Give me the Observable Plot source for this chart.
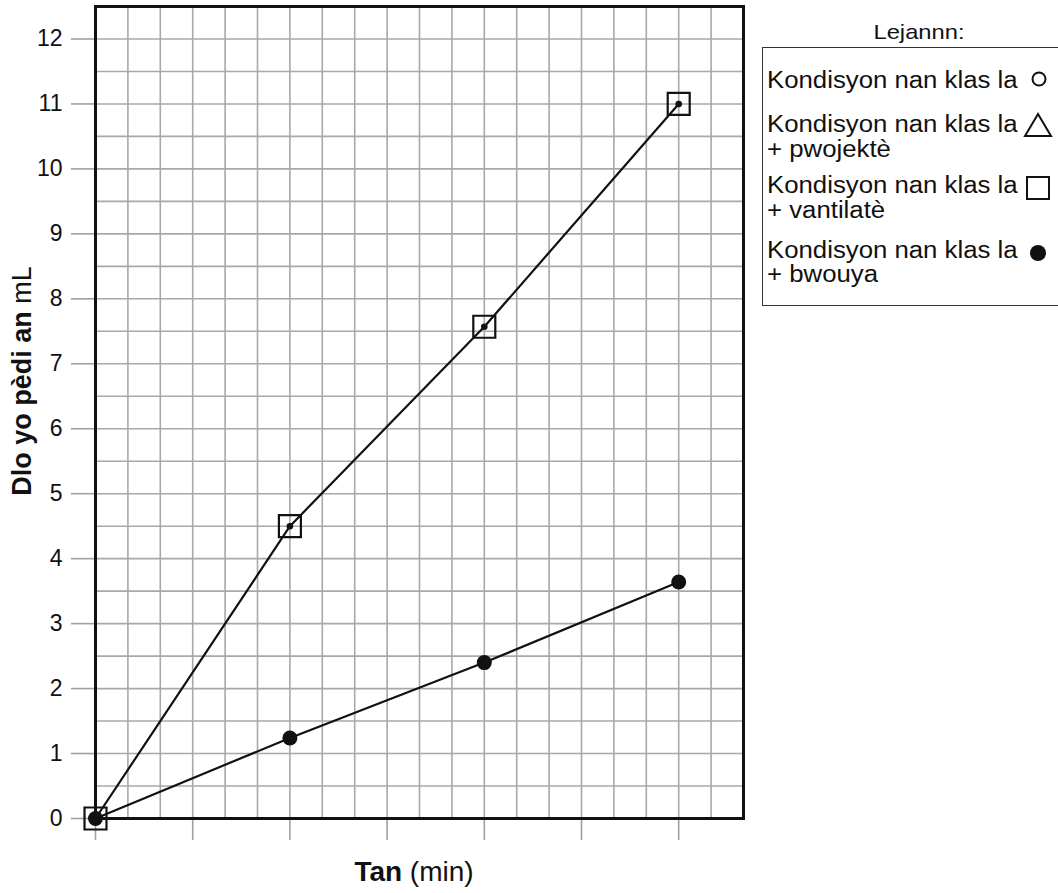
<!DOCTYPE html>
<html>
<head>
<meta charset="utf-8">
<script src="https://cdn.jsdelivr.net/npm/d3@7"></script>
<script src="https://cdn.jsdelivr.net/npm/@observablehq/plot@0.6"></script>
<style>
  html, body { margin: 0; padding: 0; background: #fff; }
  #wrap { position: relative; width: 1058px; height: 893px; overflow: hidden; font-family: "Liberation Sans", Arial, sans-serif; color: #111; }
  #chart { position: absolute; left: 0; top: 0; }
  .ylab { position: absolute; left: 22px; top: 381px; transform: translate(-50%, -50%) rotate(-90deg); white-space: nowrap; font-size: 27px; line-height: 27px; }
  .xlab { position: absolute; left: 414px; top: 858px; transform: translateX(-50%); white-space: nowrap; font-size: 28px; line-height: 28px; }
  #legend-box { position: absolute; left: 762px; top: 47px; width: 300px; height: 259px; border: 1.5px solid #333; box-sizing: border-box; }
  .lg { position: absolute; left: 767px; white-space: nowrap; font-size: 23px; line-height: 23px; }
  .lg span { display: inline-block; transform: scaleX(1.12); transform-origin: left center; }
  .lgt { position: absolute; left: 919px; transform: translateX(-50%); white-space: nowrap; font-size: 21px; line-height: 21px; }
  .lgt span { display: inline-block; transform: scaleX(1.13); }
  #sym { position: absolute; left: 0; top: 0; }
</style>
</head>
<body>
<div id="wrap">
  <div id="chart"></div>
  <div class="ylab"><b>Dlo yo pèdi an</b> mL</div>
  <div class="xlab"><b>Tan</b> (min)</div>
  <div id="legend-box"></div>
  <div class="lgt" style="top:21px"><span>Lejannn:</span></div>
  <div id="legend"></div>
  <svg id="sym" width="1058" height="893">
    <circle cx="1039" cy="79" r="6.5" fill="none" stroke="#111" stroke-width="2"/>
    <polygon points="1038,114 1025,136 1051,136" fill="none" stroke="#111" stroke-width="2"/>
    <rect x="1027" y="177" width="22" height="22" fill="none" stroke="#111" stroke-width="2"/>
    <circle cx="1038" cy="253" r="8" fill="#111"/>
  </svg>
</div>
<script>
// Data
const times = [0, 10, 20, 30];                 // min
const ventilate = [0, 4.5, 7.57, 11.0];        // square series (+ vantilatè)
const bwouya = [0, 1.24, 2.4, 3.64];           // filled circle series (+ bwouya)
const yTicks = [0, 1, 2, 3, 4, 5, 6, 7, 8, 9, 10, 11, 12];
const xTicks = [0, 5, 10, 15, 20, 25, 30];
const legendLines = [
  ["Kondisyon nan klas la", 88],
  ["Kondisyon nan klas la", 132],
  ["+ pwojektè", 157],
  ["Kondisyon nan klas la", 193],
  ["+ vantilatè", 218],
  ["Kondisyon nan klas la", 258],
  ["+ bwouya", 282]
];

const xMax = 100 / 3, yMax = 12.5;
const xGrid = d3.range(0, 21).map(i => i * 5 / 3);
const yGrid = d3.range(0, 26).map(i => i * 0.5);

const sq = times.map((t, i) => ({t, v: ventilate[i]}));
const bw = times.map((t, i) => ({t, v: bwouya[i]}));

const plot = Plot.plot({
  width: 760,
  height: 893,
  marginLeft: 95,
  marginRight: 17,
  marginTop: 6,
  marginBottom: 75,
  style: {fontFamily: "'Liberation Sans', Arial, sans-serif", fontSize: "23px", background: "white", color: "#111"},
  x: {domain: [0, xMax]},
  y: {domain: [0, yMax]},
  marks: [
    Plot.ruleX(xGrid, {x: d => d, stroke: "#a8a8a8", strokeWidth: 1.6}),
    Plot.ruleY(yGrid, {y: d => d, stroke: "#a8a8a8", strokeWidth: 1.6}),
    Plot.axisY({ticks: yTicks, tickSize: 24, tickPadding: 9, stroke: "#a0a0a0", strokeWidth: 1.6, fill: "#111", fontSize: 23, label: null}),
    Plot.axisX({ticks: xTicks, tickSize: 22, tickFormat: () => "", stroke: "#a0a0a0", strokeWidth: 1.6, label: null}),
    Plot.frame({stroke: "#111", strokeWidth: 3}),
    Plot.line(sq, {x: "t", y: "v", stroke: "#111", strokeWidth: 2.2}),
    Plot.line(bw, {x: "t", y: "v", stroke: "#111", strokeWidth: 2.2}),
    Plot.dot(sq, {x: "t", y: "v", symbol: "square", r: 12.4, fill: "none", stroke: "#111", strokeWidth: 2.2}),
    Plot.dot(sq, {x: "t", y: "v", r: 3.3, fill: "#111", stroke: "none"}),
    Plot.dot(bw, {x: "t", y: "v", r: 7.5, fill: "#111", stroke: "none"})
  ]
});
document.getElementById("chart").appendChild(plot);

const lg = document.getElementById("legend");
for (const [txt, base] of legendLines) {
  const d = document.createElement("div");
  d.className = "lg";
  d.style.top = (base - 19.5) + "px";
  const s = document.createElement("span");
  s.textContent = txt;
  d.appendChild(s);
  lg.appendChild(d);
}
</script>
</body>
</html>
